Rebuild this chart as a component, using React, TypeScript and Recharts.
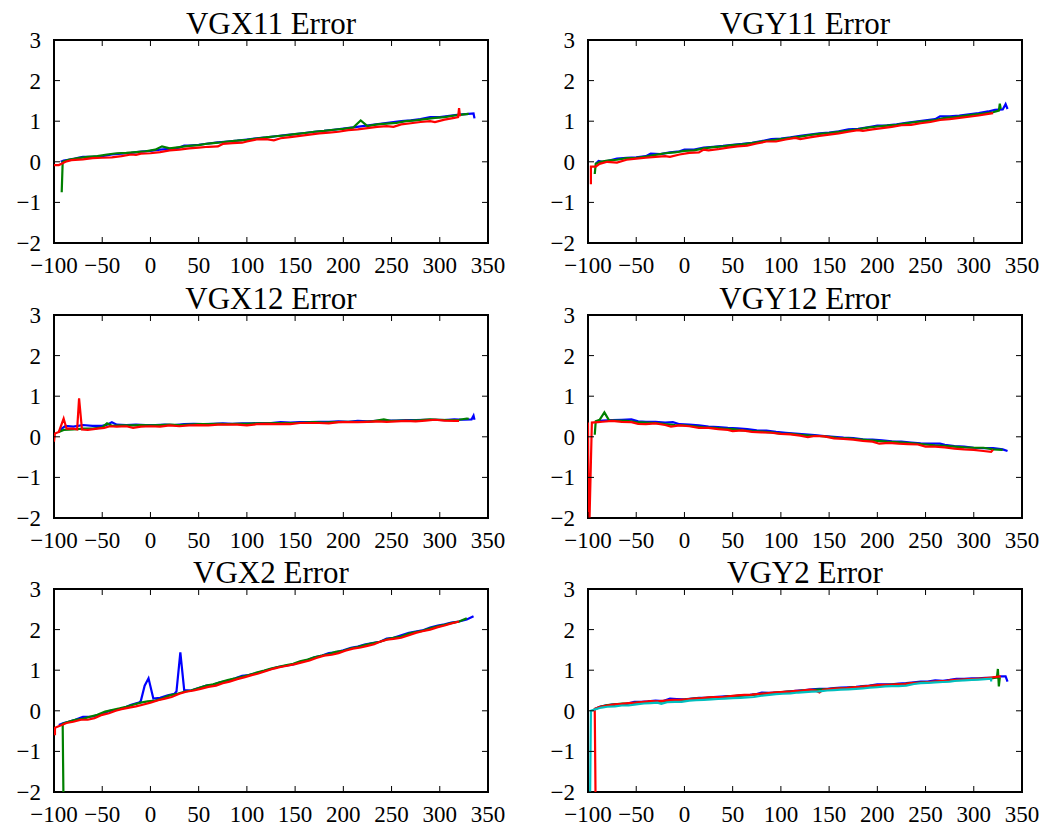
import React from 'react';
import { LineChart, Line, XAxis, YAxis, ReferenceArea } from 'recharts';

// tick values shared by all six panels
const xTicks = [-100, -50, 0, 50, 100, 150, 200, 250, 300, 350];
const yTicks = [-2, -1, 0, 1, 2, 3];

type Pair = [number, number];

// ---- VGX11 ----
const vgx11Blue: Pair[] = [[-93,0.0],[-90,0.03],[-85,0.05],[-80,0.07],[-75,0.1],[-70,0.12],[-60,0.12],[-50,0.14],[-40,0.18],[-30,0.2],[-20,0.22],[-10,0.25],[0,0.27],[10,0.3],[20,0.32],[30,0.35],[35,0.4],[40,0.4],[50,0.42],[60,0.45],[70,0.48],[80,0.5],[90,0.52],[100,0.55],[110,0.58],[120,0.6],[130,0.63],[140,0.66],[150,0.68],[160,0.71],[170,0.74],[180,0.76],[190,0.79],[200,0.82],[210,0.85],[220,0.88],[230,0.91],[240,0.94],[250,0.97],[260,1.0],[270,1.02],[280,1.05],[290,1.1],[300,1.1],[310,1.13],[320,1.16],[330,1.18],[335,1.19],[336,1.07]];
const vgx11Green: Pair[] = [[-92,-0.75],[-91,0.0],[-85,0.05],[-75,0.09],[-65,0.12],[-55,0.14],[-45,0.18],[-35,0.21],[-25,0.22],[-15,0.24],[-5,0.26],[5,0.3],[12,0.38],[20,0.33],[30,0.36],[40,0.39],[50,0.41],[60,0.45],[70,0.47],[80,0.5],[90,0.52],[100,0.54],[110,0.57],[120,0.6],[130,0.63],[140,0.65],[150,0.68],[160,0.71],[170,0.74],[180,0.76],[190,0.79],[200,0.81],[210,0.84],[218,1.02],[225,0.88],[235,0.92],[245,0.94],[255,0.96],[265,1.0],[275,1.02],[285,1.05],[295,1.08],[305,1.1],[315,1.14],[325,1.17],[330,1.18]];
const vgx11Red: Pair[] = [[-100,-0.08],[-95,-0.08],[-88,0.0],[-82,0.04],[-70,0.06],[-60,0.09],[-50,0.1],[-40,0.11],[-30,0.14],[-20,0.18],[-15,0.17],[-10,0.2],[0,0.21],[10,0.24],[20,0.28],[30,0.3],[40,0.33],[50,0.35],[60,0.37],[70,0.38],[75,0.44],[85,0.46],[95,0.47],[100,0.5],[110,0.55],[120,0.56],[128,0.53],[135,0.58],[145,0.61],[155,0.64],[165,0.67],[175,0.7],[185,0.72],[195,0.74],[205,0.78],[215,0.8],[225,0.83],[235,0.86],[245,0.88],[252,0.86],[260,0.92],[270,0.95],[280,0.98],[290,1.0],[295,0.98],[305,1.04],[315,1.08],[319,1.1],[320,1.32],[321,1.12]];

// ---- VGY11 ----
const vgy11Blue: Pair[] = [[-92,-0.05],[-89,0.02],[-85,0.0],[-80,0.02],[-70,0.08],[-60,0.1],[-50,0.11],[-40,0.14],[-35,0.2],[-25,0.19],[-15,0.23],[-5,0.26],[0,0.3],[10,0.3],[20,0.35],[30,0.37],[40,0.39],[50,0.42],[60,0.44],[70,0.47],[80,0.51],[90,0.56],[100,0.57],[110,0.6],[120,0.64],[130,0.67],[140,0.7],[150,0.72],[160,0.75],[170,0.8],[180,0.81],[190,0.85],[200,0.89],[210,0.9],[220,0.92],[230,0.96],[240,0.99],[250,1.02],[260,1.05],[265,1.12],[275,1.12],[285,1.14],[295,1.17],[305,1.2],[315,1.24],[322,1.28],[330,1.29],[333,1.42],[335,1.3]];
const vgy11Green: Pair[] = [[-93,-0.3],[-92,-0.05],[-87,0.0],[-80,0.03],[-70,0.05],[-60,0.09],[-50,0.1],[-40,0.13],[-30,0.17],[-20,0.21],[-10,0.23],[0,0.27],[10,0.28],[20,0.33],[30,0.36],[40,0.38],[50,0.41],[60,0.43],[70,0.46],[80,0.5],[90,0.53],[100,0.56],[110,0.59],[120,0.62],[130,0.66],[140,0.69],[150,0.71],[160,0.74],[170,0.77],[180,0.8],[190,0.84],[200,0.87],[210,0.89],[220,0.91],[230,0.95],[240,0.98],[250,1.0],[260,1.03],[270,1.08],[280,1.1],[290,1.13],[300,1.16],[310,1.19],[320,1.22],[326,1.26],[327,1.43],[328,1.3]];
const vgy11Red: Pair[] = [[-97,-0.55],[-97,-0.12],[-92,-0.12],[-88,-0.05],[-80,0.0],[-70,-0.02],[-60,0.05],[-50,0.08],[-40,0.1],[-30,0.12],[-20,0.14],[-15,0.12],[-5,0.18],[5,0.22],[15,0.23],[20,0.3],[25,0.28],[35,0.31],[45,0.35],[55,0.38],[65,0.4],[75,0.45],[85,0.5],[95,0.5],[105,0.55],[115,0.59],[120,0.56],[130,0.6],[140,0.64],[150,0.67],[160,0.7],[170,0.74],[180,0.78],[185,0.76],[195,0.8],[205,0.83],[215,0.86],[225,0.9],[235,0.91],[245,0.95],[255,0.98],[265,1.03],[275,1.05],[285,1.08],[295,1.11],[305,1.14],[315,1.18],[320,1.2]];

// ---- VGX12 ----
const vgx12Blue: Pair[] = [[-95,0.12],[-92,0.2],[-88,0.27],[-80,0.25],[-75,0.27],[-70,0.29],[-60,0.27],[-50,0.27],[-45,0.3],[-40,0.36],[-35,0.3],[-25,0.29],[-15,0.3],[-5,0.29],[5,0.29],[15,0.3],[25,0.29],[35,0.31],[45,0.32],[55,0.31],[65,0.32],[75,0.33],[85,0.32],[95,0.33],[105,0.33],[115,0.34],[125,0.34],[135,0.36],[145,0.35],[155,0.36],[165,0.36],[175,0.37],[185,0.37],[195,0.38],[205,0.37],[215,0.39],[225,0.38],[235,0.39],[245,0.4],[255,0.4],[265,0.41],[275,0.41],[285,0.42],[295,0.42],[305,0.41],[315,0.43],[325,0.42],[333,0.43],[335,0.52],[336,0.42]];
const vgx12Green: Pair[] = [[-95,0.12],[-90,0.17],[-80,0.18],[-70,0.2],[-60,0.2],[-50,0.23],[-45,0.33],[-40,0.27],[-30,0.28],[-20,0.28],[-10,0.29],[0,0.28],[10,0.29],[20,0.3],[30,0.29],[40,0.3],[50,0.31],[60,0.31],[70,0.32],[80,0.31],[90,0.32],[100,0.32],[110,0.33],[120,0.33],[130,0.34],[140,0.34],[150,0.34],[160,0.35],[170,0.36],[180,0.35],[190,0.36],[200,0.37],[210,0.37],[220,0.37],[230,0.38],[242,0.43],[250,0.39],[260,0.4],[270,0.4],[280,0.41],[290,0.43],[300,0.42],[310,0.41],[320,0.42],[328,0.45],[330,0.44]];
const vgx12Red: Pair[] = [[-100,-0.12],[-99,0.08],[-95,0.12],[-90,0.45],[-87,0.2],[-80,0.2],[-76,0.18],[-74,0.95],[-71,0.18],[-65,0.17],[-55,0.2],[-48,0.22],[-42,0.26],[-35,0.25],[-25,0.26],[-18,0.22],[-10,0.25],[0,0.26],[10,0.25],[20,0.28],[30,0.26],[40,0.28],[50,0.29],[60,0.28],[70,0.3],[80,0.3],[90,0.3],[100,0.28],[110,0.31],[120,0.32],[130,0.31],[140,0.32],[145,0.31],[155,0.34],[165,0.34],[175,0.34],[185,0.33],[195,0.36],[205,0.36],[215,0.36],[225,0.37],[235,0.38],[245,0.37],[255,0.38],[265,0.39],[275,0.38],[285,0.4],[295,0.42],[305,0.4],[315,0.39],[320,0.39]];

// ---- VGY12 ----
const vgy12Blue: Pair[] = [[-92,0.38],[-85,0.4],[-75,0.41],[-65,0.42],[-55,0.43],[-48,0.38],[-40,0.37],[-30,0.37],[-20,0.35],[-12,0.36],[-5,0.31],[5,0.3],[15,0.28],[25,0.25],[35,0.24],[45,0.22],[55,0.21],[65,0.19],[75,0.16],[85,0.15],[95,0.12],[105,0.1],[115,0.08],[125,0.06],[135,0.04],[145,0.02],[155,0.0],[165,-0.02],[175,-0.03],[185,-0.06],[195,-0.07],[205,-0.09],[215,-0.11],[225,-0.12],[235,-0.14],[245,-0.16],[255,-0.17],[265,-0.17],[270,-0.2],[280,-0.23],[290,-0.24],[300,-0.27],[310,-0.28],[320,-0.28],[330,-0.31],[335,-0.35]];
const vgy12Green: Pair[] = [[-93,0.05],[-92,0.38],[-88,0.42],[-83,0.6],[-78,0.4],[-70,0.4],[-60,0.39],[-50,0.36],[-40,0.35],[-30,0.34],[-20,0.31],[-10,0.29],[0,0.28],[10,0.26],[20,0.23],[30,0.22],[40,0.2],[50,0.19],[60,0.16],[70,0.14],[80,0.13],[90,0.11],[100,0.08],[110,0.07],[120,0.05],[130,0.03],[140,0.02],[150,0.0],[160,-0.03],[170,-0.04],[180,-0.06],[190,-0.08],[200,-0.1],[210,-0.12],[220,-0.13],[230,-0.15],[240,-0.17],[250,-0.19],[260,-0.21],[270,-0.22],[280,-0.24],[290,-0.26],[300,-0.27],[310,-0.27],[320,-0.31],[330,-0.32]];
const vgy12Red: Pair[] = [[-100,0.35],[-99,-2.6],[-96,0.35],[-90,0.36],[-85,0.37],[-75,0.39],[-65,0.37],[-55,0.36],[-48,0.32],[-40,0.31],[-30,0.33],[-20,0.29],[-14,0.25],[-5,0.28],[5,0.26],[15,0.22],[25,0.22],[35,0.19],[45,0.17],[50,0.14],[60,0.16],[70,0.12],[80,0.11],[90,0.1],[100,0.07],[110,0.06],[120,0.03],[128,-0.01],[135,0.02],[145,0.01],[155,-0.04],[165,-0.05],[175,-0.07],[185,-0.1],[195,-0.12],[202,-0.17],[212,-0.15],[222,-0.17],[232,-0.18],[242,-0.19],[250,-0.24],[260,-0.24],[270,-0.26],[280,-0.29],[290,-0.31],[300,-0.32],[310,-0.35],[318,-0.37],[320,-0.32]];

// ---- VGX2 ----
const vgx2Blue: Pair[] = [[-95,-0.35],[-90,-0.3],[-85,-0.27],[-78,-0.22],[-70,-0.15],[-60,-0.14],[-50,-0.08],[-42,0.0],[-35,0.02],[-28,0.07],[-20,0.15],[-12,0.2],[-10,0.24],[-6,0.62],[-2,0.8],[3,0.3],[10,0.32],[18,0.38],[25,0.42],[27,0.48],[31,1.44],[35,0.51],[42,0.5],[50,0.56],[58,0.62],[65,0.64],[72,0.7],[80,0.74],[88,0.8],[95,0.86],[102,0.88],[110,0.93],[118,0.98],[125,1.03],[132,1.08],[140,1.11],[148,1.14],[155,1.2],[163,1.25],[170,1.32],[178,1.36],[185,1.42],[192,1.44],[200,1.49],[208,1.55],[215,1.58],[222,1.63],[230,1.67],[238,1.7],[245,1.78],[252,1.8],[260,1.86],[268,1.92],[275,1.95],[282,1.98],[290,2.05],[298,2.1],[305,2.13],[312,2.17],[320,2.2],[328,2.25],[335,2.33]];
const vgx2Green: Pair[] = [[-90,-2.6],[-91,-0.32],[-85,-0.27],[-78,-0.22],[-70,-0.2],[-62,-0.14],[-55,-0.1],[-47,-0.02],[-40,0.02],[-32,0.06],[-25,0.1],[-18,0.15],[-10,0.2],[-3,0.23],[5,0.25],[12,0.3],[20,0.38],[28,0.42],[35,0.47],[42,0.5],[50,0.56],[58,0.62],[65,0.65],[72,0.7],[80,0.76],[88,0.8],[95,0.84],[102,0.88],[110,0.94],[118,0.99],[125,1.04],[132,1.08],[140,1.12],[148,1.16],[155,1.22],[163,1.26],[170,1.32],[178,1.36],[185,1.4],[192,1.45],[200,1.48],[208,1.54],[215,1.57],[222,1.62],[230,1.66],[238,1.7],[245,1.76],[252,1.8],[260,1.83],[268,1.9],[275,1.94],[282,1.97],[290,2.03],[298,2.08],[305,2.12],[312,2.16],[320,2.2],[328,2.28]];
const vgx2Red: Pair[] = [[-99,-0.6],[-99,-0.42],[-92,-0.35],[-87,-0.3],[-80,-0.27],[-72,-0.22],[-65,-0.22],[-58,-0.18],[-50,-0.1],[-43,-0.06],[-36,0.0],[-30,0.04],[-22,0.08],[-15,0.11],[-8,0.15],[0,0.2],[8,0.26],[15,0.3],[22,0.34],[30,0.42],[37,0.47],[45,0.5],[52,0.54],[60,0.59],[68,0.62],[75,0.68],[82,0.72],[90,0.78],[98,0.83],[105,0.88],[112,0.92],[120,0.98],[128,1.04],[135,1.08],[142,1.11],[150,1.15],[158,1.2],[165,1.24],[172,1.3],[180,1.36],[188,1.38],[195,1.42],[202,1.48],[210,1.53],[218,1.56],[225,1.6],[232,1.64],[238,1.7],[245,1.75],[252,1.77],[260,1.8],[268,1.86],[275,1.92],[282,1.96],[290,2.0],[298,2.06],[305,2.1],[312,2.15],[320,2.2]];

// ---- VGY2 ----
const vgy2Blue: Pair[] = [[-92,0.05],[-88,0.1],[-82,0.13],[-75,0.15],[-68,0.16],[-60,0.17],[-52,0.22],[-45,0.22],[-38,0.23],[-30,0.25],[-22,0.24],[-15,0.3],[-8,0.29],[0,0.28],[8,0.3],[15,0.32],[22,0.32],[30,0.34],[38,0.35],[45,0.36],[52,0.36],[60,0.38],[68,0.39],[75,0.41],[80,0.45],[88,0.44],[95,0.45],[102,0.46],[110,0.48],[118,0.5],[125,0.51],[132,0.53],[140,0.54],[148,0.54],[155,0.56],[162,0.57],[170,0.58],[178,0.59],[185,0.61],[192,0.62],[200,0.65],[208,0.65],[215,0.65],[222,0.67],[230,0.68],[238,0.7],[245,0.72],[252,0.72],[260,0.75],[268,0.74],[275,0.76],[282,0.79],[290,0.79],[298,0.8],[305,0.8],[312,0.81],[320,0.82],[328,0.85],[333,0.85],[335,0.72]];
const vgy2Green: Pair[] = [[-92,0.05],[-87,0.1],[-80,0.14],[-72,0.16],[-65,0.18],[-58,0.18],[-50,0.2],[-42,0.21],[-35,0.22],[-28,0.22],[-20,0.24],[-12,0.26],[-5,0.26],[2,0.28],[10,0.3],[18,0.31],[25,0.32],[32,0.33],[40,0.34],[48,0.36],[55,0.37],[62,0.38],[70,0.39],[78,0.41],[85,0.43],[92,0.44],[100,0.46],[108,0.47],[115,0.48],[122,0.5],[130,0.51],[138,0.52],[145,0.53],[152,0.54],[160,0.55],[168,0.56],[175,0.58],[182,0.59],[190,0.61],[198,0.62],[205,0.63],[212,0.64],[220,0.65],[228,0.66],[235,0.68],[242,0.69],[250,0.7],[258,0.71],[265,0.72],[272,0.73],[280,0.75],[288,0.76],[295,0.77],[302,0.78],[310,0.79],[318,0.8],[324,0.82],[325,1.03],[326,0.6],[327,0.82]];
const vgy2Red: Pair[] = [[-92,-2.6],[-93,0.05],[-88,0.09],[-80,0.13],[-72,0.16],[-65,0.17],[-58,0.19],[-50,0.2],[-42,0.22],[-35,0.24],[-28,0.23],[-20,0.25],[-12,0.27],[-5,0.27],[2,0.28],[10,0.3],[18,0.31],[25,0.33],[32,0.34],[40,0.34],[48,0.36],[55,0.38],[62,0.39],[70,0.4],[78,0.42],[85,0.43],[92,0.45],[100,0.46],[108,0.47],[115,0.49],[122,0.5],[130,0.52],[136,0.5],[140,0.45],[144,0.52],[152,0.54],[160,0.55],[168,0.56],[175,0.58],[182,0.59],[190,0.61],[198,0.63],[205,0.64],[212,0.64],[220,0.65],[228,0.66],[235,0.68],[242,0.69],[250,0.7],[258,0.72],[265,0.73],[272,0.74],[280,0.76],[288,0.77],[295,0.78],[302,0.79],[310,0.8],[318,0.82],[325,0.84],[328,0.85]];
const vgy2Cyan: Pair[] = [[-98,-2.6],[-97,0.0],[-92,0.04],[-86,0.08],[-80,0.1],[-72,0.11],[-65,0.13],[-58,0.13],[-50,0.16],[-42,0.18],[-35,0.19],[-28,0.2],[-24,0.17],[-18,0.21],[-10,0.22],[-3,0.22],[5,0.25],[12,0.26],[20,0.27],[28,0.28],[35,0.29],[42,0.3],[50,0.31],[58,0.32],[65,0.33],[72,0.34],[80,0.37],[88,0.39],[95,0.41],[102,0.42],[110,0.43],[118,0.45],[125,0.46],[132,0.47],[140,0.48],[148,0.5],[155,0.51],[162,0.52],[170,0.53],[178,0.54],[185,0.55],[192,0.57],[200,0.58],[208,0.6],[215,0.61],[222,0.61],[230,0.62],[238,0.66],[245,0.68],[252,0.69],[260,0.7],[268,0.71],[275,0.72],[282,0.74],[290,0.75],[298,0.76],[305,0.77],[312,0.78],[318,0.79],[318,0.72]];

const BLUE = '#0000ff';
const GREEN = '#008000';
const RED = '#ff0000';
const CYAN = '#00bfbf';

// layout of the 3x2 grid (plot area boxes)
const PLOT_W = 434;
const PLOT_H = 203;
const COL_X = [54, 588];
const ROW_Y = [40, 315, 589];
const Y_AXIS_W = 52;
const X_AXIS_H = 40;
const M = { top: 16, right: 20, left: 0, bottom: 0 };
const TICK = 6;
const FONT = '"Liberation Serif", "Times New Roman", serif';

const fmt = (v: number) => (v < 0 ? '\u2212' + Math.abs(v) : String(v));

const XTick = (props: any) => {
    const { x, y, payload } = props;
    return (
        <g>
            <line x1={x} y1={y} x2={x} y2={y - TICK} stroke="#000" strokeWidth={1} />
            <line x1={x} y1={y - PLOT_H} x2={x} y2={y - PLOT_H + TICK} stroke="#000" strokeWidth={1} />
            <text x={x} y={y + 30} textAnchor="middle" fontSize={23} fontFamily={FONT} fill="#000">
                {fmt(payload.value)}
            </text>
        </g>
    );
};

const YTick = (props: any) => {
    const { x, y, payload } = props;
    return (
        <g>
            <line x1={x} y1={y} x2={x + TICK} y2={y} stroke="#000" strokeWidth={1} />
            <line x1={x + PLOT_W} y1={y} x2={x + PLOT_W - TICK} y2={y} stroke="#000" strokeWidth={1} />
            <text x={x - 13} y={y + 8} textAnchor="end" fontSize={23} fontFamily={FONT} fill="#000">
                {fmt(payload.value)}
            </text>
        </g>
    );
};

interface Series {
    pts: Pair[];
    color: string;
}

interface PanelProps {
    title: string;
    col: number;
    row: number;
    series: Series[];
}

function Panel({ title, col, row, series }: PanelProps) {
    const left = COL_X[col];
    const top = ROW_Y[row];
    return (
        <>
            <div style={{ position: 'absolute', left: left - Y_AXIS_W, top: top - M.top }}>
                <LineChart
                    width={PLOT_W + Y_AXIS_W + M.right}
                    height={PLOT_H + M.top + X_AXIS_H}
                    margin={M}
                >
                    <XAxis
                        dataKey="x"
                        type="number"
                        domain={[-100, 350]}
                        ticks={xTicks}
                        interval={0}
                        allowDataOverflow
                        height={X_AXIS_H}
                        tickSize={0}
                        tickMargin={0}
                        axisLine={false}
                        tickLine={false}
                        tick={XTick}
                    />
                    <YAxis
                        type="number"
                        domain={[-2, 3]}
                        ticks={yTicks}
                        interval={0}
                        allowDataOverflow
                        width={Y_AXIS_W}
                        tickSize={0}
                        tickMargin={0}
                        axisLine={false}
                        tickLine={false}
                        tick={YTick}
                    />
                    {series.map((s, i) => (
                        <Line
                            key={i}
                            data={s.pts.map(([x, y]) => ({ x, y }))}
                            dataKey="y"
                            type="linear"
                            stroke={s.color}
                            strokeWidth={2.2}
                            dot={false}
                            activeDot={false}
                            isAnimationActive={false}
                        />
                    ))}
                    <ReferenceArea
                        x1={-100}
                        x2={350}
                        y1={-2}
                        y2={3}
                        fill="none"
                        fillOpacity={0}
                        stroke="#000"
                        strokeWidth={2}
                        ifOverflow="visible"
                    />
                </LineChart>
            </div>
            <svg
                width={PLOT_W}
                height={40}
                style={{ position: 'absolute', left, top: top - 40, overflow: 'visible' }}
            >
                <text x={PLOT_W / 2} y={34} textAnchor="middle" fontSize={31} fontFamily={FONT} fill="#000">
                    {title}
                </text>
            </svg>
        </>
    );
}

export default function App() {
    return (
        <div style={{ position: 'absolute', left: 0, top: 0, width: 1042, height: 829, background: '#fff' }}>
            <Panel title="VGX11 Error" col={0} row={0} series={[
                { pts: vgx11Blue, color: BLUE },
                { pts: vgx11Green, color: GREEN },
                { pts: vgx11Red, color: RED },
            ]} />
            <Panel title="VGY11 Error" col={1} row={0} series={[
                { pts: vgy11Blue, color: BLUE },
                { pts: vgy11Green, color: GREEN },
                { pts: vgy11Red, color: RED },
            ]} />
            <Panel title="VGX12 Error" col={0} row={1} series={[
                { pts: vgx12Blue, color: BLUE },
                { pts: vgx12Green, color: GREEN },
                { pts: vgx12Red, color: RED },
            ]} />
            <Panel title="VGY12 Error" col={1} row={1} series={[
                { pts: vgy12Blue, color: BLUE },
                { pts: vgy12Green, color: GREEN },
                { pts: vgy12Red, color: RED },
            ]} />
            <Panel title="VGX2 Error" col={0} row={2} series={[
                { pts: vgx2Blue, color: BLUE },
                { pts: vgx2Green, color: GREEN },
                { pts: vgx2Red, color: RED },
            ]} />
            <Panel title="VGY2 Error" col={1} row={2} series={[
                { pts: vgy2Blue, color: BLUE },
                { pts: vgy2Green, color: GREEN },
                { pts: vgy2Red, color: RED },
                { pts: vgy2Cyan, color: CYAN },
            ]} />
        </div>
    );
}
